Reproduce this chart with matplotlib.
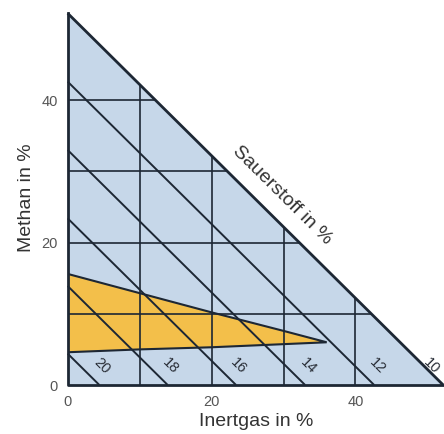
import matplotlib
matplotlib.use("Agg")
import matplotlib.pyplot as plt
from matplotlib.patches import Polygon

plt.rcParams['font.family'] = ['Liberation Sans', 'DejaVu Sans']

# O2 lines: value and where each line meets the axes (methane + inert gas sum)
o2_levels = [20, 18, 16, 14, 12, 10]
o2_intercepts = [4.4, 13.9, 23.4, 33.0, 42.6, 52.2]

# grid lines
grid_x = [10, 20, 30, 40]
grid_y = [10, 20, 30, 40]

# explosive range (yellow area)
ex_inert = [0, 10, 20, 30, 36, 20, 10, 0]
ex_methan = [15.6, 12.9, 10.2, 7.6, 6.0, 5.3, 5.0, 4.6]

x_ticks = [0, 20, 40]
y_ticks = [0, 20, 40]

blue = '#c6d7e9'
yellow = '#f3bf4a'
dark = '#1d2734'

fig = plt.figure(figsize=(4.44, 4.34), dpi=100)
ax = fig.add_axes([0.1525, 0.1129, 0.849, 0.863])
ax.set_xlim(0, 52.4)
ax.set_ylim(0, 52.6)

top = o2_intercepts[-1]
tri = Polygon([(0, 0), (0, top), (top, 0)], closed=True,
              facecolor=blue, edgecolor='none', zorder=1)
ax.add_patch(tri)

expl = Polygon(list(zip(ex_inert, ex_methan)), closed=True,
               facecolor=yellow, edgecolor=dark, linewidth=1.5, zorder=2)
ax.add_patch(expl)

for gx in grid_x:
    ln = ax.axvline(gx, color=dark, linewidth=1.2, zorder=3)
    ln.set_clip_path(tri)
for gy in grid_y:
    ln = ax.axhline(gy, color=dark, linewidth=1.2, zorder=3)
    ln.set_clip_path(tri)

for lvl, c in zip(o2_levels, o2_intercepts):
    lw = 2.0 if c == top else 1.4
    ax.plot([0, c], [c, 0], color=dark, linewidth=lw, zorder=4,
            solid_capstyle='butt', clip_on=False)
    # keep the last label inside the figure
    lx = min(c + 0.4, 50.6)
    ax.text(lx, 2.7, str(lvl), rotation=-45, ha='center', va='center',
            fontsize=10.5, color='#2a2f38', zorder=5, clip_on=False)

# triangle legs
ax.plot([0, 0, top], [top, 0, 0], color=dark, linewidth=2.0, zorder=4,
        clip_on=False)

ax.text(29.8, 26.7, 'Sauerstoff in %', rotation=-44.7, ha='center',
        va='center', fontsize=14, color='#333333')

for s in ax.spines.values():
    s.set_visible(False)
ax.set_xticks(x_ticks)
ax.set_yticks(y_ticks)
ax.tick_params(length=0, pad=7, labelsize=10.5, labelcolor='#555555')
ax.set_xlabel('Inertgas in %', fontsize=14, color='#333333', labelpad=3)
ax.set_ylabel('Methan in %', fontsize=14, color='#333333', labelpad=5)

fig.savefig('out.png', dpi=100)
